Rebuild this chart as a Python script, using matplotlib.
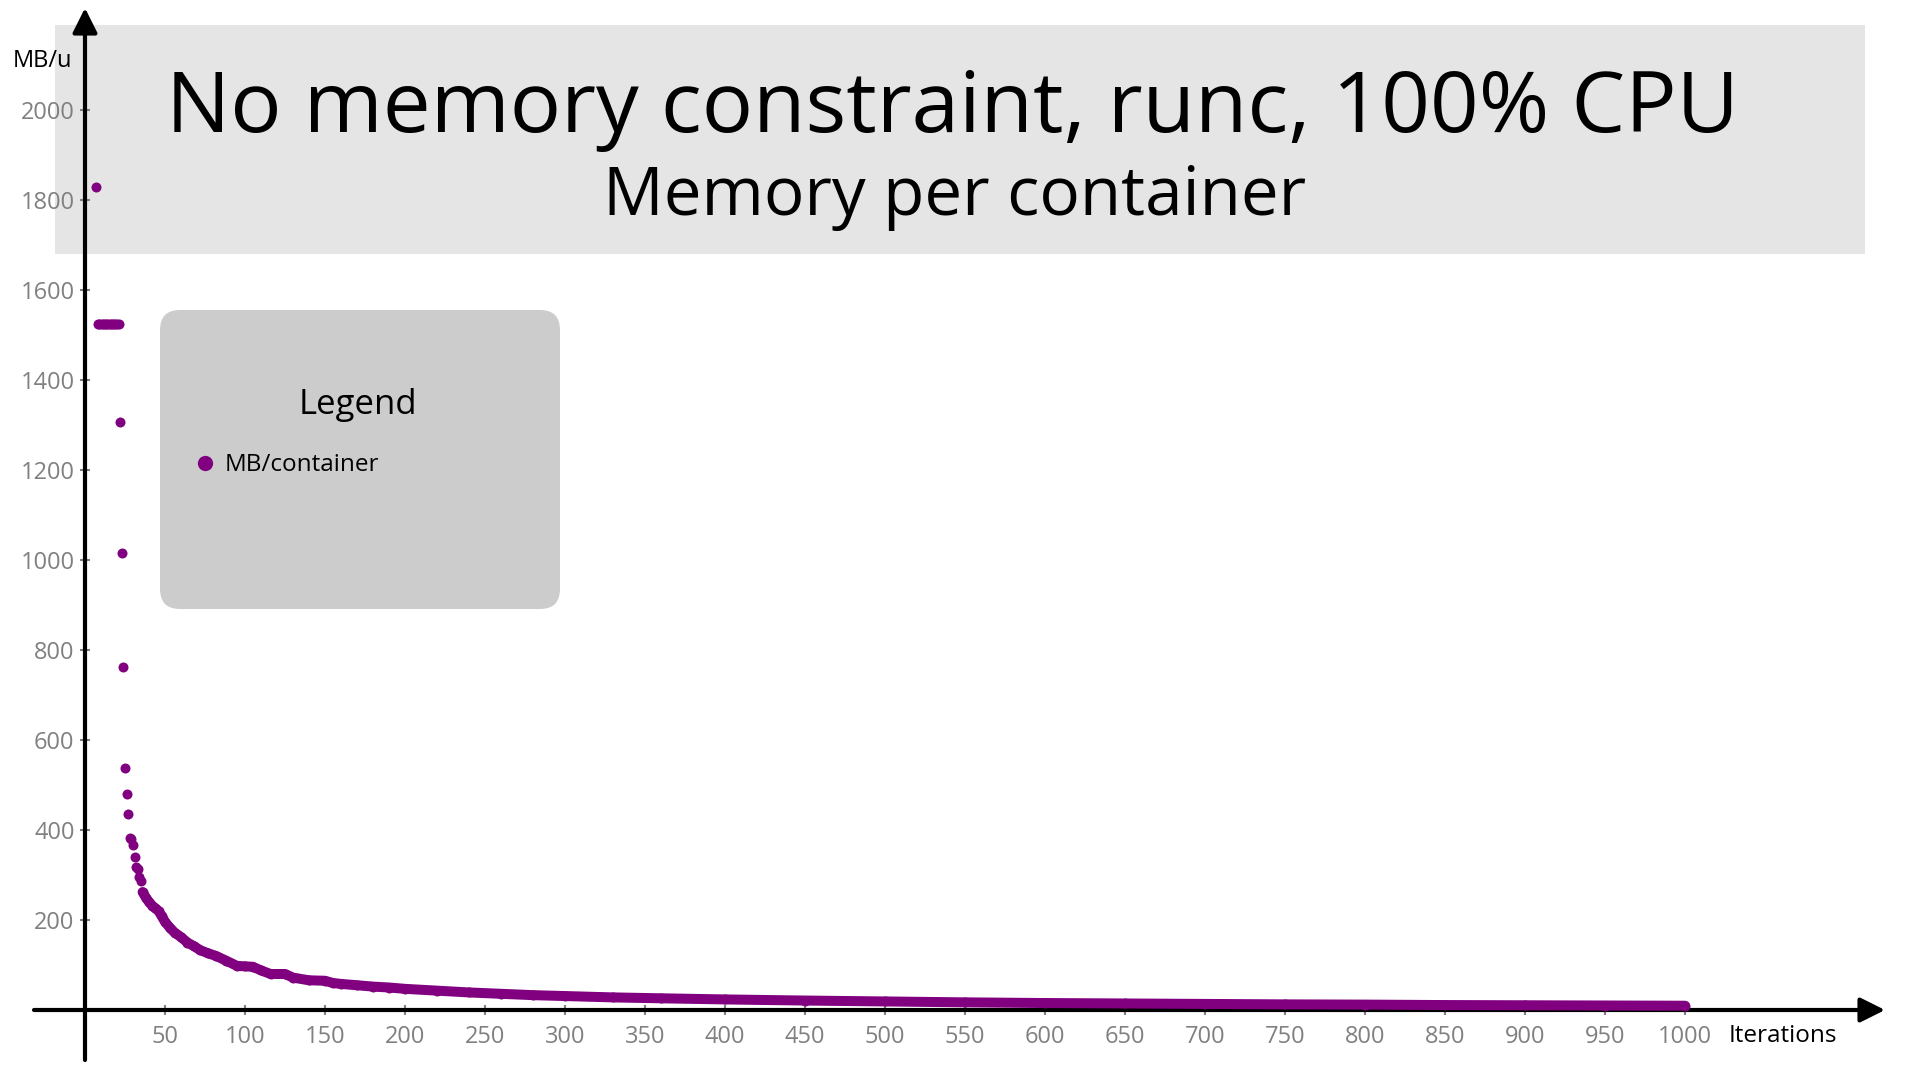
import matplotlib
matplotlib.use("Agg")
import matplotlib.pyplot as plt
from matplotlib.patches import Rectangle, FancyBboxPatch
from matplotlib.transforms import IdentityTransform

# iterations (x) and MB per container (y)
early_iter = [7, 8, 9, 10, 11, 12, 13, 14, 15, 16, 17, 18, 19, 20, 21,
              22, 23, 24, 25, 26, 27, 28, 29, 30, 31, 32, 33, 34, 35]
early_mb = [1828, 1524, 1524, 1524, 1524, 1524, 1524, 1524, 1524, 1524, 1524, 1524, 1524, 1524, 1524,
            1306, 1016, 762, 538, 481, 436, 382, 380, 366, 339, 318, 314, 296, 286]

tail_iter = [36, 38, 40, 42, 44, 46, 48, 50, 53, 56, 60, 64, 68, 72, 77, 82, 88, 95, 100,
             105, 110, 116, 125, 130, 140, 150, 155, 160, 170, 180, 190, 200, 220, 240, 260,
             280, 300, 330, 360, 400, 450, 500, 550, 600, 650, 700, 750, 800, 850, 900, 950, 1000]
tail_mb = [262, 250, 240, 232, 226, 220, 208, 196, 183, 172, 162, 150, 142, 133, 126, 120, 110, 98, 97,
           96, 88, 80, 80, 72, 66, 65, 60, 58, 55, 52, 50, 47, 43, 39, 36,
           33, 31, 28, 26, 23.5, 21, 19, 17, 15.5, 14.5, 13.5, 12.5, 12, 11, 10.5, 10, 9.5]

y_ticks = list(range(200, 2001, 200))
x_ticks = list(range(50, 1001, 50))

title = "No memory constraint, runc, 100% CPU"
subtitle = "Memory per container"
series_name = "MB/container"

FONT = "Open Sans"
PURPLE = "#800080"
GREY = "#808080"
plt.rcParams['font.family'] = [FONT, 'DejaVu Sans']

W, H = 1920, 1080
fig = plt.figure(figsize=(19.2, 10.8), dpi=100)
ax = fig.add_axes([0, 0, 1, 1])
ax.set_facecolor("white")

# 1 iteration = 1.6 px, 1 MB = 0.45 px, origin at (85, 1010) px
ax.set_xlim(-85 / 1.6, (W - 85) / 1.6)
ax.set_ylim(-(H - 1010) / 0.45, 1010 / 0.45)


def fx(px):
    return px / W


def fy(py):
    return 1 - py / H


# title band
ax.add_patch(Rectangle((fx(55), fy(254)), (1865 - 55) / W, (254 - 25) / H,
                       transform=fig.transFigure, facecolor="#e5e5e5",
                       edgecolor="none", zorder=0, clip_on=False))
fig.text(fx(952), fy(132), title, fontsize=61.5, ha="center", va="baseline")
fig.text(fx(955), fy(215), subtitle, fontsize=48.5, ha="center", va="baseline")

# axes with arrows
for s in ax.spines.values():
    s.set_visible(False)
ax.spines["left"].set_position(("data", 0))
ax.spines["bottom"].set_position(("data", 0))
arrow = dict(arrowstyle="-|>,head_length=1.0,head_width=0.5", lw=3, color="black",
             mutation_scale=15, shrinkA=0, shrinkB=0)
ax.annotate("", xy=((1885 - 85) / 1.6, 0), xytext=((34 - 85) / 1.6, 0),
            arrowprops=arrow, zorder=2)
ax.annotate("", xy=(0, (1010 - 8) / 0.45), xytext=(0, (1010 - 1060) / 0.45),
            arrowprops=arrow, zorder=2)

ax.set_xticks(x_ticks)
ax.set_yticks(y_ticks)
ax.tick_params(axis="both", direction="inout", length=7, width=1.5, color=GREY,
               labelcolor=GREY, labelsize=17)
ax.tick_params(axis="x", pad=7.5)
ax.tick_params(axis="y", pad=4)

fig.text(fx(72), fy(61), "MB/u", fontsize=17, ha="right", va="center")
fig.text(fx(1729), fy(1036), "Iterations", fontsize=17.5, ha="left", va="center")

# data
ax.plot(tail_iter, tail_mb, color=PURPLE, lw=7.2, solid_capstyle="round",
        solid_joinstyle="round", zorder=4)
ax.plot(early_iter, early_mb, "o", color=PURPLE, ms=7.2, mec="none", zorder=4)
ax.plot(tail_iter, tail_mb, "o", color=PURPLE, ms=7.2, mec="none", zorder=4)

# legend box
ax.add_patch(FancyBboxPatch((160, H - 609), 400, 299,
                            boxstyle="round,pad=0,rounding_size=20",
                            transform=IdentityTransform(), facecolor="#cccccc",
                            edgecolor="none", zorder=5, clip_on=False))
fig.text(fx(358), fy(405), "Legend", fontsize=25, ha="center", va="center", zorder=6)
ax.plot([fx(205)], [fy(463)], "o", color=PURPLE, ms=11, mec="none",
        transform=fig.transFigure, zorder=6, clip_on=False)
fig.text(fx(225), fy(465), series_name, fontsize=17.5, ha="left", va="center", zorder=6)

fig.savefig("out.png", dpi=100)
